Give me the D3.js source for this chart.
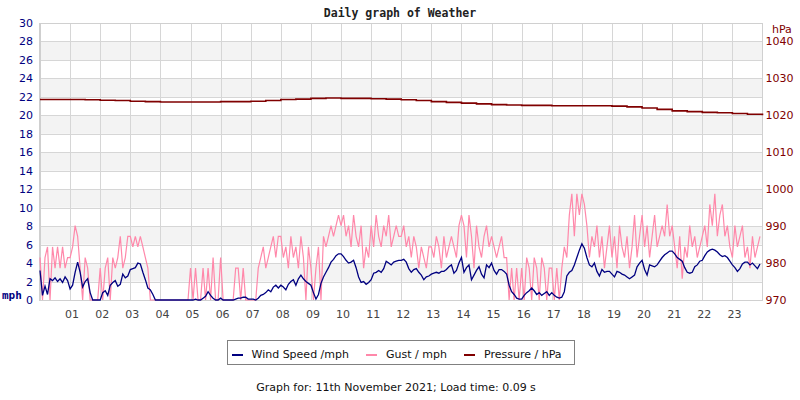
<!DOCTYPE html>
<html><head><meta charset="utf-8">
<script src="https://cdn.jsdelivr.net/npm/d3@7"></script>
<style>
html,body{margin:0;padding:0;background:#fff;}
svg{display:block;}
text{font-family:"DejaVu Sans",sans-serif;}
</style></head>
<body>
<svg id="chart" width="800" height="400"></svg>
<script>
// ---- data (5-minute samples, 288 per day) ----
const hourLabels = ["01","02","03","04","05","06","07","08","09","10","11","12","13","14","15","16","17","18","19","20","21","22","23"];
const speedTicks = [0,2,4,6,8,10,12,14,16,18,20,22,24,26,28,30];
const pressureTicks = [970,980,990,1000,1010,1020,1030,1040];
const seriesNames = ["Wind Speed /mph","Gust / mph","Pressure / hPa"];

const windSpeed = [
3.2,0.5,1.5,0.6,2.3,2.1,2.4,2.0,2.3,1.9,2.5,2.1,
1.2,1.6,3.0,4.1,3.0,1.4,2.0,2.3,0.8,0,0,0,
0,0.8,1.0,0.5,1.6,1.9,2.1,1.5,1.7,2.8,2.4,2.6,
3.3,3.4,3.5,4.0,3.9,3.0,2.2,1.3,1.1,0.6,0,0,
0,0,0,0,0,0,0,0,0,0,0,0,
0,0,0.1,0,0,0.2,0.4,0.9,0.5,0.2,0,0,
0.2,0,0,0,0,0,0.1,0.2,0.2,0.3,0.3,0.1,
0.1,0.1,0,0.2,0.5,0.6,0.8,1.1,0.9,1.4,1.6,1.3,
1.6,1.4,1.1,1.7,2.0,2.2,1.6,2.3,2.7,2.3,2.0,1.8,
1.6,0.8,0.1,0.6,1.8,2.5,3.0,3.5,4.1,4.4,4.8,5.0,
5.0,4.7,4.3,4.0,4.1,4.3,3.5,2.5,1.9,2.0,1.7,1.9,
2.2,2.9,3.0,3.2,3.0,3.4,4.2,4.0,3.8,4.1,4.2,4.3,
4.3,4.4,4.1,3.4,3.0,3.3,3.4,3.0,2.7,2.2,2.5,2.6,
2.8,2.9,3.0,2.9,3.1,3.1,3.3,3.6,3.8,2.9,3.2,4.0,
4.6,3.0,3.5,3.8,2.2,2.7,3.2,3.6,2.8,2.4,3.8,3.5,
4.0,3.2,2.8,3.3,3.3,3.1,2.8,1.6,0.9,0.6,0.2,0.1,
0.1,0.5,0.8,1.0,1.3,1.0,0.6,0.8,0.5,0.7,0.9,0.5,
0.8,0.5,0.3,0.2,0.3,0.9,2.6,3.0,3.2,3.8,4.6,5.4,
6.1,5.6,4.6,3.8,3.6,4.0,3.1,2.6,3.3,3.0,3.1,3.1,
2.8,2.5,3.1,3.0,2.8,2.7,2.5,2.3,2.5,2.7,3.6,4.0,
4.3,3.3,2.7,3.8,3.7,3.6,3.8,4.2,4.6,4.9,5.1,5.3,
5.3,5.0,4.6,4.4,4.2,3.5,3.0,2.9,3.0,3.6,3.8,4.2,
4.3,4.8,5.2,5.4,5.5,5.4,5.2,4.9,4.7,4.8,4.6,4.2,
3.8,3.5,3.1,3.4,3.9,4.1,4.1,3.8,4.0,3.7,3.4,3.9
];

const gust = [
4.6,0,4.6,5.75,0,5.75,3.45,5.75,3.45,5.75,3.45,4.6,
4.6,5.75,8.05,6.9,3.45,0,4.6,3.45,0,0,0,0,
3.45,0,3.45,4.6,0,4.6,3.45,4.6,6.9,3.45,4.6,6.9,
6.9,5.75,6.9,5.75,6.9,5.75,4.6,3.45,0,0,0,0,
0,0,0,0,0,0,0,0,0,0,0,0,
3.45,0,3.45,0,0,3.45,0,3.45,0,4.6,0,0,
4.6,0,0,0,0,0,3.45,3.45,0,3.45,0,0,
0,0,0,3.45,4.6,5.75,3.45,4.6,5.75,6.9,4.6,6.9,
6.9,4.6,5.75,3.45,6.9,4.6,5.75,3.45,6.9,4.6,0,5.75,
3.45,0,3.45,5.75,0,6.9,5.75,6.9,8.05,6.9,8.05,9.2,
8.05,9.2,6.9,8.05,5.75,9.2,6.9,5.75,8.05,3.45,5.75,4.6,
8.05,5.75,9.2,6.9,5.75,8.05,6.9,9.2,5.75,6.9,8.05,6.9,
6.9,8.05,5.75,6.9,4.6,6.9,5.75,3.45,5.75,4.6,3.45,5.75,
5.75,4.6,6.9,5.75,3.45,6.9,4.6,5.75,6.9,5.75,4.6,8.05,
9.2,8.05,4.6,9.2,6.9,3.45,8.05,5.75,4.6,6.9,8.05,5.75,
6.9,5.75,4.6,5.75,6.9,4.6,4.6,0,3.45,0,3.45,0,
3.45,0,4.6,3.45,0,4.6,3.45,0,4.6,3.45,0,3.45,
3.45,0,3.45,0,3.45,5.75,4.6,9.2,11.5,6.9,11.5,9.2,
11.5,10.35,8.05,4.6,6.9,5.75,8.05,4.6,6.9,3.45,5.75,8.05,
4.6,6.9,3.45,8.05,5.75,4.6,6.9,3.45,5.75,9.2,4.6,6.9,
9.2,5.75,8.05,4.6,6.9,9.2,5.75,6.9,8.05,6.9,10.35,6.9,
8.05,5.75,3.45,6.9,2.3,5.75,4.6,8.05,5.75,6.9,4.6,5.75,
6.9,8.05,5.75,10.35,8.05,11.5,6.9,9.2,10.35,6.9,8.05,5.75,
4.6,8.05,5.75,6.9,8.05,4.6,5.75,3.45,6.9,4.6,5.75,6.9
];

// pressure every 30 minutes, 00:00 .. 24:00
const pressure = [
1024.3,1024.3,1024.3,1024.2,1024.1,1024.0,1023.8,1023.7,1023.6,1023.6,
1023.6,1023.6,1023.7,1023.7,1023.8,1024.0,1024.3,1024.4,1024.6,1024.7,
1024.6,1024.6,1024.5,1024.4,1024.2,1024.0,1023.7,1023.5,1023.3,1023.1,
1022.9,1022.8,1022.7,1022.7,1022.6,1022.6,1022.6,1022.6,1022.5,1022.3,
1022.0,1021.6,1021.2,1021.0,1020.8,1020.7,1020.5,1020.3,1020.0
];

const colors = {wind:"#000080", gust:"#ff88aa", pressure:"#800000"};

// ---- drawing ----
const svg = d3.select("#chart");
const L = 40, R = 762.5, T = 23, B = 300;
const x = d3.scaleLinear().domain([0,24]).range([L,R]);
const yL = d3.scaleLinear().domain([0,30]).range([B,T]);
const yR = d3.scaleLinear().domain([970,1045]).range([B,T]);

// bands
const bandStarts = speedTicks.filter(v => v % 4 === 2 && v < 30);
svg.append("g").selectAll("rect").data(bandStarts).join("rect")
  .attr("x", L).attr("width", R-L)
  .attr("y", d => yL(d+2)).attr("height", d => yL(d)-yL(d+2))
  .attr("fill", "#f3f3f3");

// grid
const grid = svg.append("g").attr("shape-rendering","crispEdges").attr("stroke","#d6d6d6").attr("stroke-width",1);
grid.selectAll("line.h").data(speedTicks).join("line").attr("class","h")
  .attr("x1", L).attr("x2", R).attr("y1", d => Math.round(yL(d))+0.5).attr("y2", d => Math.round(yL(d))+0.5);
grid.selectAll("line.v").data(d3.range(1,24)).join("line").attr("class","v")
  .attr("y1", T).attr("y2", B).attr("x1", d => Math.round(x(d))+0.5).attr("x2", d => Math.round(x(d))+0.5);
// frame
svg.append("rect").attr("x", L+0.5).attr("y", T+0.5).attr("width", R-L-1).attr("height", B-T)
  .attr("fill","none").attr("stroke","#d0d0d0").attr("shape-rendering","crispEdges");
svg.append("line").attr("x1",L).attr("x2",L).attr("y1",T).attr("y2",B+1).attr("stroke","#cfcfcf").attr("stroke-width",2);

// series
const step = 24/288;
const gustLine = d3.line().x((d,i) => x(i*step)).y(d => yL(d));
svg.append("path").datum(gust).attr("d", gustLine).attr("fill","none")
  .attr("stroke", colors.gust).attr("stroke-width", 1.2);
const windLine = d3.line().x((d,i) => x(i*step)).y(d => yL(d));
svg.append("path").datum(windSpeed).attr("d", windLine).attr("fill","none")
  .attr("stroke", colors.wind).attr("stroke-width", 1.3);
const pLine = d3.line().x((d,i) => x(i*0.5)).y(d => yR(d)).curve(d3.curveStepAfter);
svg.append("path").datum(pressure).attr("d", pLine).attr("fill","none")
  .attr("stroke", colors.pressure).attr("stroke-width", 1.6);

// axes labels
const axL = svg.append("g").attr("transform", `translate(${L},0)`)
  .call(d3.axisLeft(yL).tickValues(speedTicks).tickSize(0).tickPadding(7));
axL.select(".domain").remove();
axL.selectAll("text").attr("fill", colors.wind).style("font-size","11px").style("font-family","DejaVu Sans");

const axR = svg.append("g").attr("transform", `translate(${R},0)`)
  .call(d3.axisRight(yR).tickValues(pressureTicks).tickFormat(d3.format("d")).tickSize(0).tickPadding(3));
axR.select(".domain").remove();
axR.selectAll("text").attr("fill", colors.pressure).style("font-size","11px").style("font-family","DejaVu Sans");

const axB = svg.append("g").attr("transform", `translate(0,${B})`)
  .call(d3.axisBottom(x).tickValues(d3.range(1,24)).tickFormat((d,i) => hourLabels[i]).tickSize(0).tickPadding(10));
axB.select(".domain").remove();
axB.selectAll("text").attr("fill", "#444").attr("dx", 1.5).style("font-size","11px").style("font-family","DejaVu Sans");

svg.append("text").attr("x", 2).attr("y", 299).text("mph")
  .attr("fill", colors.wind).style("font-family","DejaVu Sans Mono").style("font-weight","bold").style("font-size","11px");
svg.append("text").attr("x", 772).attr("y", 33).text("hPa")
  .attr("fill", colors.pressure).style("font-size","11px");

// title
svg.append("text").attr("x", 400).attr("y", 17).attr("text-anchor","middle")
  .text("Daily graph of Weather").attr("fill","#222")
  .style("font-family","DejaVu Sans Mono").style("font-weight","bold").style("font-size","11.5px");

// legend
svg.append("rect").attr("x", 227.5).attr("y", 340.5).attr("width", 347).attr("height", 23.5)
  .attr("fill","#fff").attr("stroke","#808080").attr("shape-rendering","crispEdges");
const legendItems = [
  {name: seriesNames[0], color: colors.wind, lx: 232, tx: 251.5},
  {name: seriesNames[1], color: colors.gust, lx: 366, tx: 386},
  {name: seriesNames[2], color: colors.pressure, lx: 464, tx: 484}
];
const lg = svg.append("g").selectAll("g").data(legendItems).join("g");
lg.append("line").attr("x1", d => d.lx).attr("x2", d => d.lx+11).attr("y1", 355).attr("y2", 355)
  .attr("stroke", d => d.color).attr("stroke-width", 2);
lg.append("text").attr("x", d => d.tx).attr("y", 358).text(d => d.name)
  .attr("fill","#111").style("font-size","11px");

// footer
svg.append("text").attr("x", 396).attr("y", 391).attr("text-anchor","middle")
  .text("Graph for: 11th November 2021; Load time: 0.09 s")
  .attr("fill","#111").style("font-size","11px");
</script>
</body></html>
